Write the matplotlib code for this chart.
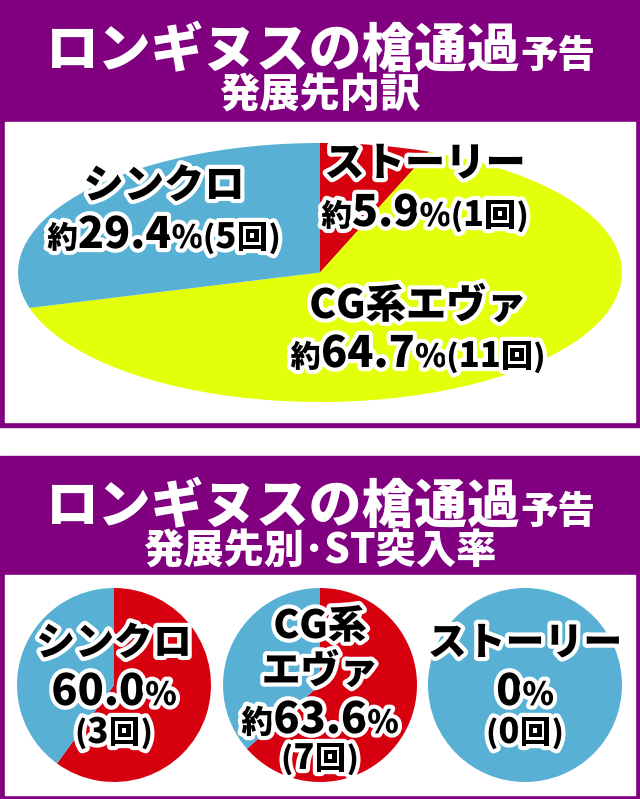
import matplotlib
matplotlib.use("Agg")
import matplotlib.pyplot as plt
import matplotlib.patheffects as pe
from matplotlib.patches import Rectangle

plt.rcParams['font.family'] = ['Noto Sans CJK JP', 'DejaVu Sans']

# data
top_names = ['ストーリー', 'CG系エヴァ', 'シンクロ']
top_counts = [1, 11, 5]
top_pct = ['5.9', '64.7', '29.4']
top_colors = ['#d6000f', '#e4ff0a', '#58b1d4']

st_names = ['シンクロ', 'CG系\nエヴァ', 'ストーリー']
st_rate = [60.0, 63.6, 0.0]
st_counts = [3, 7, 0]
st_pct = ['60.0', '63.6', '0']
st_approx = [False, True, False]

PURPLE = '#800080'
RED = '#d6000f'
BLUE = '#58b1d4'
WEIGHT = 'black'

W, H = 640, 799
fig = plt.figure(figsize=(W / 100, H / 100), dpi=100)
fig.patch.set_facecolor('white')

bg = fig.add_axes([0, 0, 1, 1], zorder=0)
bg.set_xlim(0, W)
bg.set_ylim(H, 0)
bg.axis('off')

# frames
bg.add_patch(Rectangle((0, 0), W, 427, color=PURPLE))
bg.add_patch(Rectangle((5, 122), W - 10, 300, color='white'))
bg.add_patch(Rectangle((0, 456), W, H - 456, color=PURPLE))
bg.add_patch(Rectangle((5, 575), W - 10, 220, color='white'))


def px_axes(x0, y0, x1, y1, z=1):
    return fig.add_axes([x0 / W, 1 - y1 / H, (x1 - x0) / W, (y1 - y0) / H], zorder=z)


# top pie (stretched into an ellipse)
ax = px_axes(18, 143, 622, 402)
ax.pie(top_counts, colors=top_colors, startangle=90, counterclock=False,
       wedgeprops=dict(linewidth=0))
ax.set_aspect('auto')
ax.set_xlim(-1, 1)
ax.set_ylim(-1, 1)

# bottom pies
centers = [114, 320, 525]
for cx, rate in zip(centers, st_rate):
    a = px_axes(cx - 97, 588, cx + 97, 782)
    a.pie([rate, 100 - rate], colors=[RED, BLUE], startangle=90, counterclock=False,
          wedgeprops=dict(linewidth=0))
    a.set_aspect('auto')
    a.set_xlim(-1, 1)
    a.set_ylim(-1, 1)

# text overlay
tx = fig.add_axes([0, 0, 1, 1], zorder=5)
tx.set_xlim(0, W)
tx.set_ylim(H, 0)
tx.axis('off')
tx.patch.set_alpha(0)

renderer = fig.canvas.get_renderer()
outline = [pe.withStroke(linewidth=6, foreground='white')]


def seg_line(cx, cy, segs, color='black', effects=outline):
    # segs: list of (text, fontsize); centred horizontally at cx, baseline-aligned
    items = []
    for s, fs in segs:
        t = tx.text(0, cy, s, fontsize=fs, fontweight=WEIGHT, color=color,
                    ha='left', va='baseline', path_effects=effects)
        items.append(t)
    widths = [t.get_window_extent(renderer).width for t in items]
    x = cx - sum(widths) / 2
    for t, w in zip(items, widths):
        t.set_x(x)
        x += w


# titles
for y0, sub in [(0, '発展先内訳'), (456, '発展先別･ST突入率')]:
    seg_line(320, y0 + 67, [('ロンギヌスの槍通過', 38), ('予告', 27)], color='white', effects=None)
    seg_line(320, y0 + 108, [(sub, 29)], color='white', effects=None)

# top pie labels
top_pos = [(425, 176, 226), (418, 318, 367), (164, 198, 248)]
for (cx, y1, y2), name, pct, n in zip(top_pos, top_names, top_pct, top_counts):
    seg_line(cx, y1, [(name, 29)])
    seg_line(cx, y2, [('約', 22), (pct, 31), ('%', 23), ('(', 22), (str(n), 25), ('回', 23), (')', 22)])

# bottom pie labels
for cx, name, pct, n, approx in zip(centers, st_names, st_pct, st_counts, st_approx):
    lines = name.split('\n')
    if len(lines) == 1:
        seg_line(cx, 655, [(lines[0], 28)])
        seg_line(cx, 705, [(pct, 31), ('%', 23)])
        seg_line(cx, 743, [('(', 22), (str(n), 25), ('回', 23), (')', 22)])
    else:
        seg_line(cx, 638, [(lines[0], 28)])
        seg_line(cx, 683, [(lines[1], 28)])
        pre = [('約', 23)] if approx else []
        seg_line(cx, 733, pre + [(pct, 31), ('%', 23)])
        seg_line(cx, 769, [('(', 22), (str(n), 25), ('回', 23), (')', 22)])

fig.savefig('out.png', dpi=100)
